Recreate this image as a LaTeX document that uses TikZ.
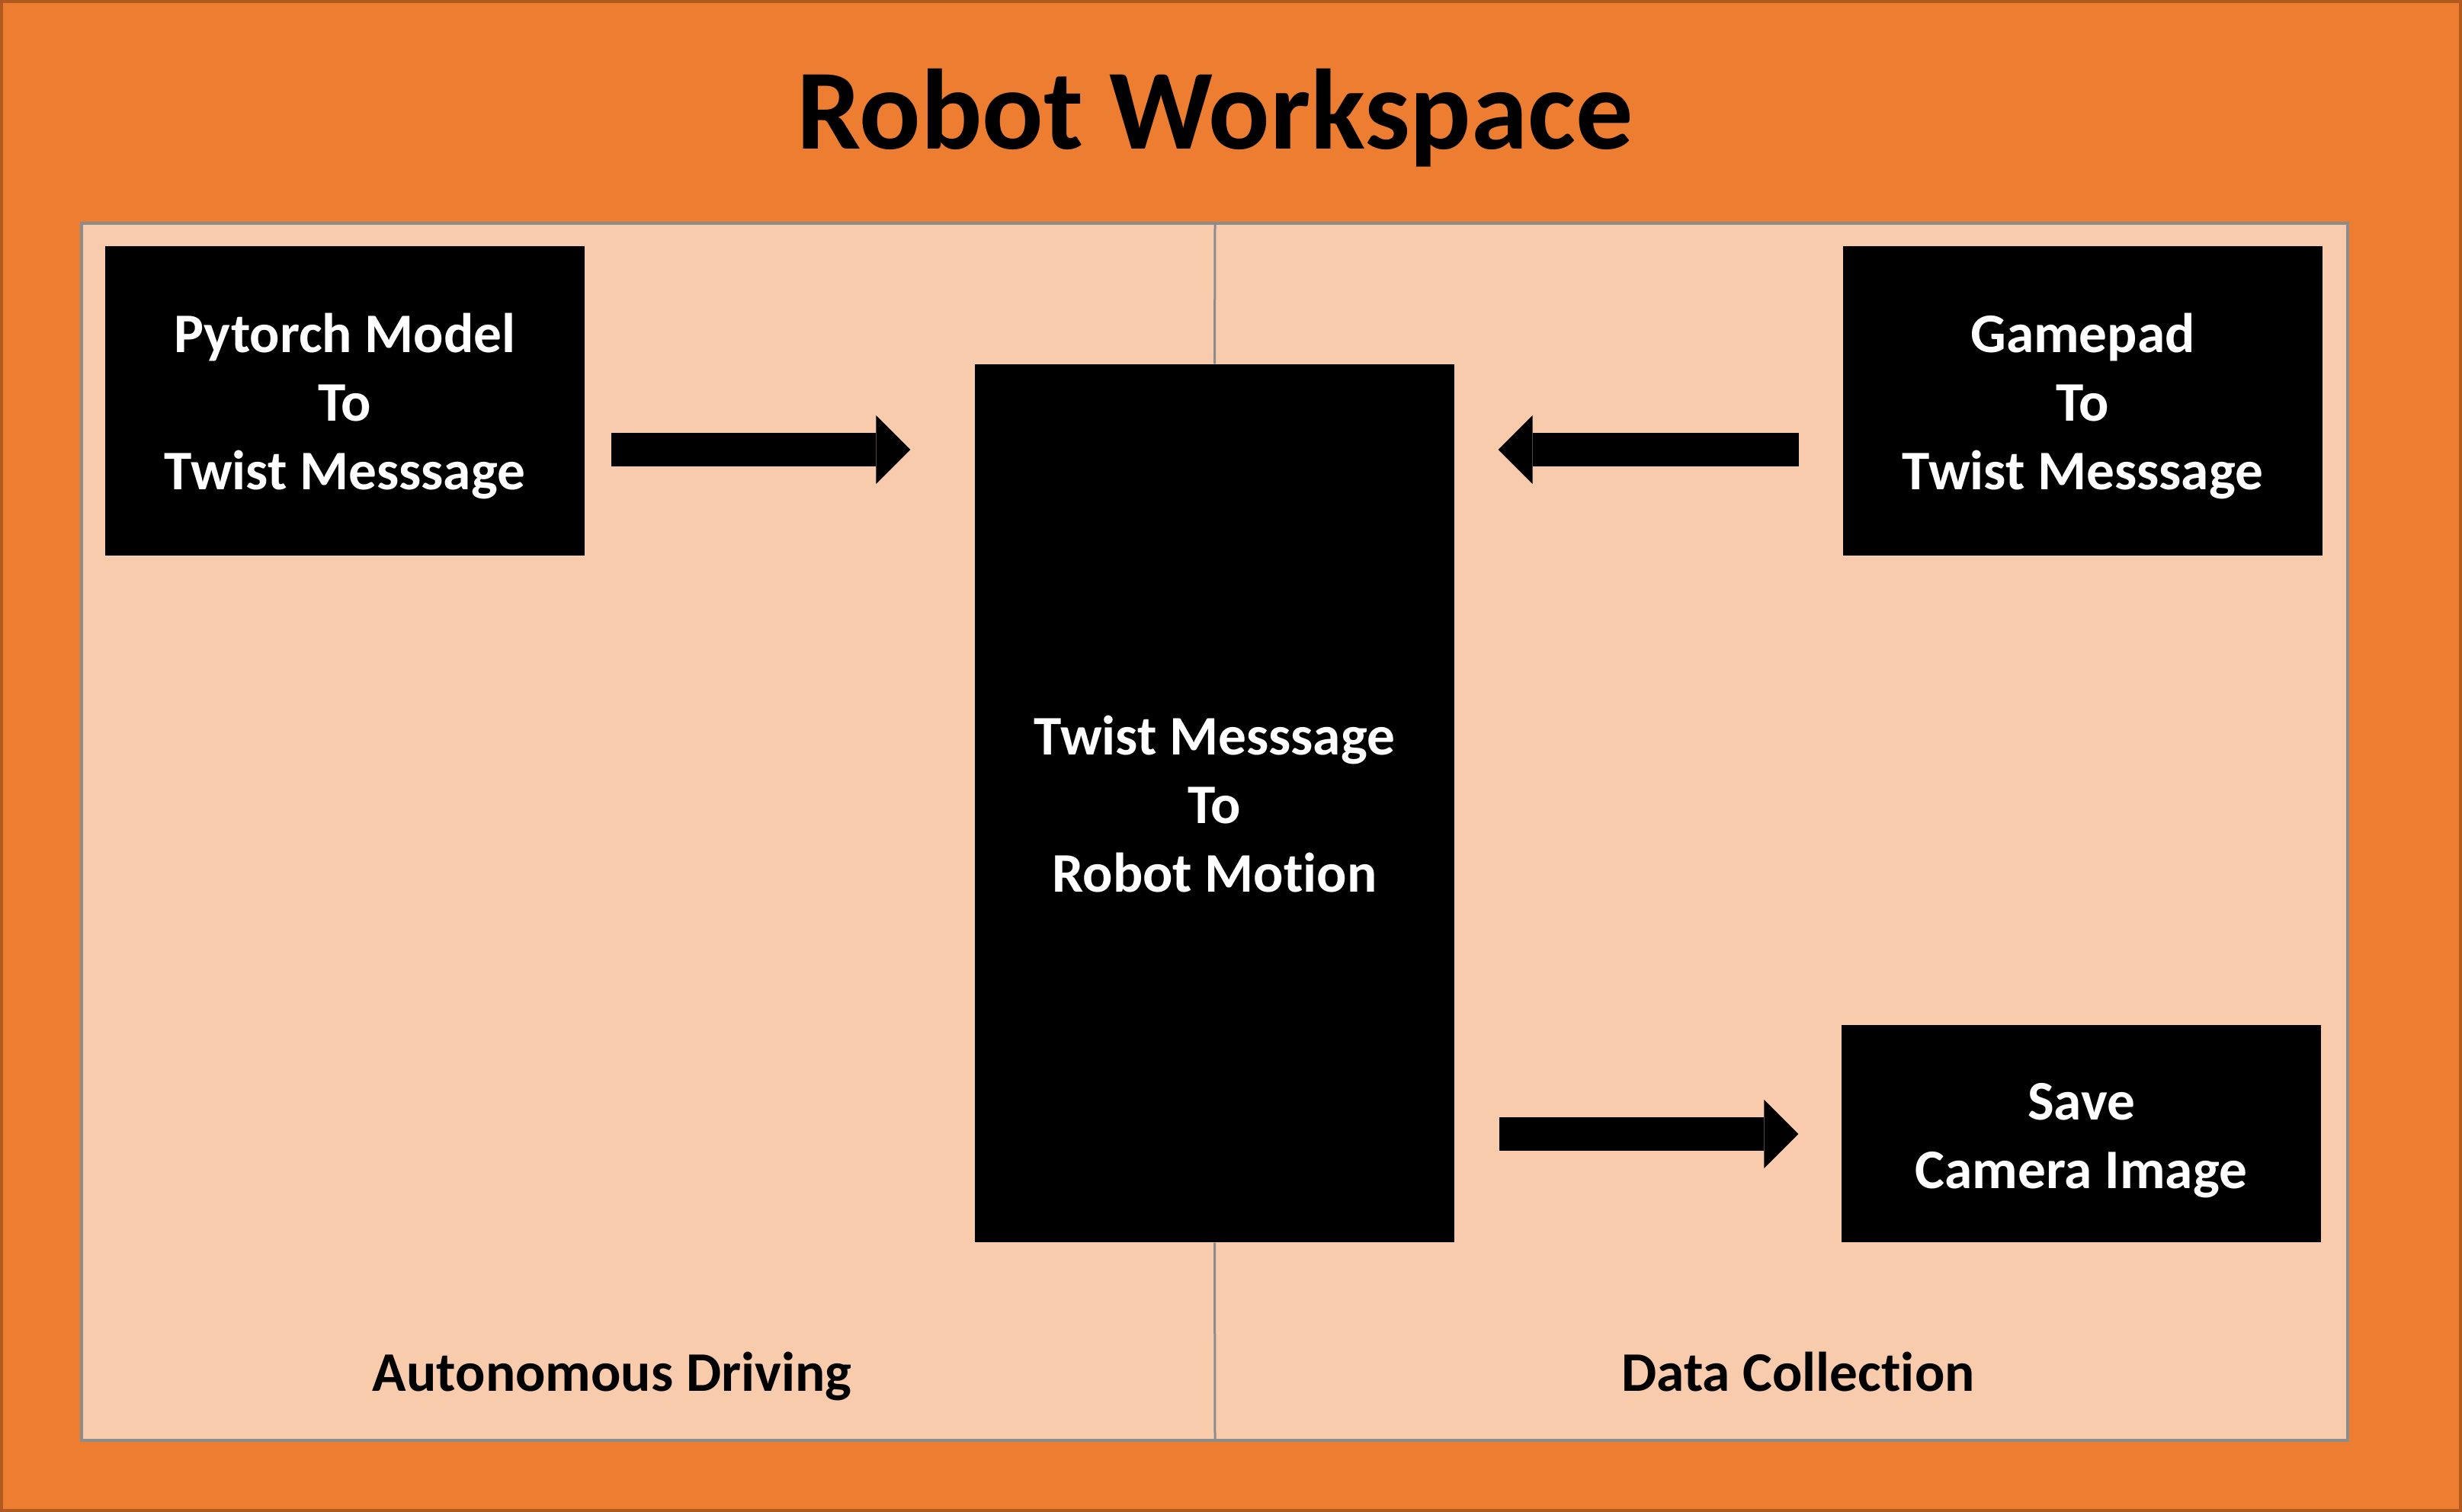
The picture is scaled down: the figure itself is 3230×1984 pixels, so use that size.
\documentclass[tikz,border=0pt]{standalone}
\usepackage{fontspec}
\setmainfont{Carlito}[Ligatures=NoCommon]
\usetikzlibrary{arrows.meta}
\definecolor{outerorange}{HTML}{ED7D31}
\definecolor{outerborder}{HTML}{B05A20}
\definecolor{panelfill}{HTML}{F8CBAD}
\definecolor{panelborder}{HTML}{8C8C8C}
\tikzset{
  blackbox/.style={fill=black, draw=none, inner sep=0pt, minimum width=188.7pt},
  boxtext/.style={text=white, align=center, inner sep=0pt,
    font=\bfseries\fontsize{22}{27}\selectfont},
  blockarrow/.style={line width=13.2pt, draw=black,
    -{Triangle[length=13.5pt, width=27pt, line width=0pt]}},
  sectionlabel/.style={anchor=base, inner sep=0pt, font=\bfseries\fontsize{22}{27}\selectfont},
  divider/.style={draw=panelborder, line width=0.9pt}
}
\begin{document}
\begin{tikzpicture}[x=0.3pt, y=-0.3pt]
\useasboundingbox (0,0) rectangle (3230,1984);
% outer background
\draw[fill=outerorange, draw=outerborder, line width=1.2pt] (2,2) rectangle (3228,1982);
% inner panel
\draw[fill=panelfill, draw=panelborder, line width=1.2pt] (107,293) rectangle (3080,1890);
\coordinate (ptop) at (1594,293);
\coordinate (pbot) at (1594,1890);
% title
\node[anchor=base, inner sep=0pt, font=\bfseries\fontsize{45}{54}\selectfont] (title) at (1594,196) {Robot Workspace};
% boxes
\node[blackbox, minimum height=121.8pt,
  label={[boxtext, yshift=-2pt]center:{Pytorch Model\\To\\Twist Messsage}}] (pm) at (452.5,526) {};
\node[blackbox, minimum height=121.8pt,
  label={[boxtext, yshift=-2pt]center:{Gamepad\\To\\Twist Messsage}}] (gp) at (2732.5,526) {};
\node[blackbox, minimum height=345.6pt,
  label={[boxtext, yshift=-0.4pt]center:{Twist Messsage\\To\\Robot Motion}}] (mid) at (1593.5,1054) {};
\node[blackbox, minimum height=85.5pt,
  label={[boxtext, yshift=-2.6pt]center:{Save\\Camera Image}}] (save) at (2730.5,1487.5) {};
% divider
\draw[divider] (ptop) -- (mid.north);
\draw[divider] (mid.south) -- (pbot);
% section labels
\node[sectionlabel] (auto) at (803,1825) {Autonomous Driving};
\node[sectionlabel] (data) at (2359,1825) {Data Collection};
% arrows
\coordinate (rowA) at (0,590);
\coordinate (rowB) at (0,1488);
\draw[blockarrow, shorten <=10.2pt, shorten >=25.2pt] (pm.east |- rowA) -- (mid.west |- rowA);
\draw[blockarrow, shorten <=17.1pt, shorten >=17.1pt] (gp.west |- rowA) -- (mid.east |- rowA);
\draw[blockarrow, shorten <=17.4pt, shorten >=16.8pt] (mid.east |- rowB) -- (save.west |- rowB);
\end{tikzpicture}
\end{document}
